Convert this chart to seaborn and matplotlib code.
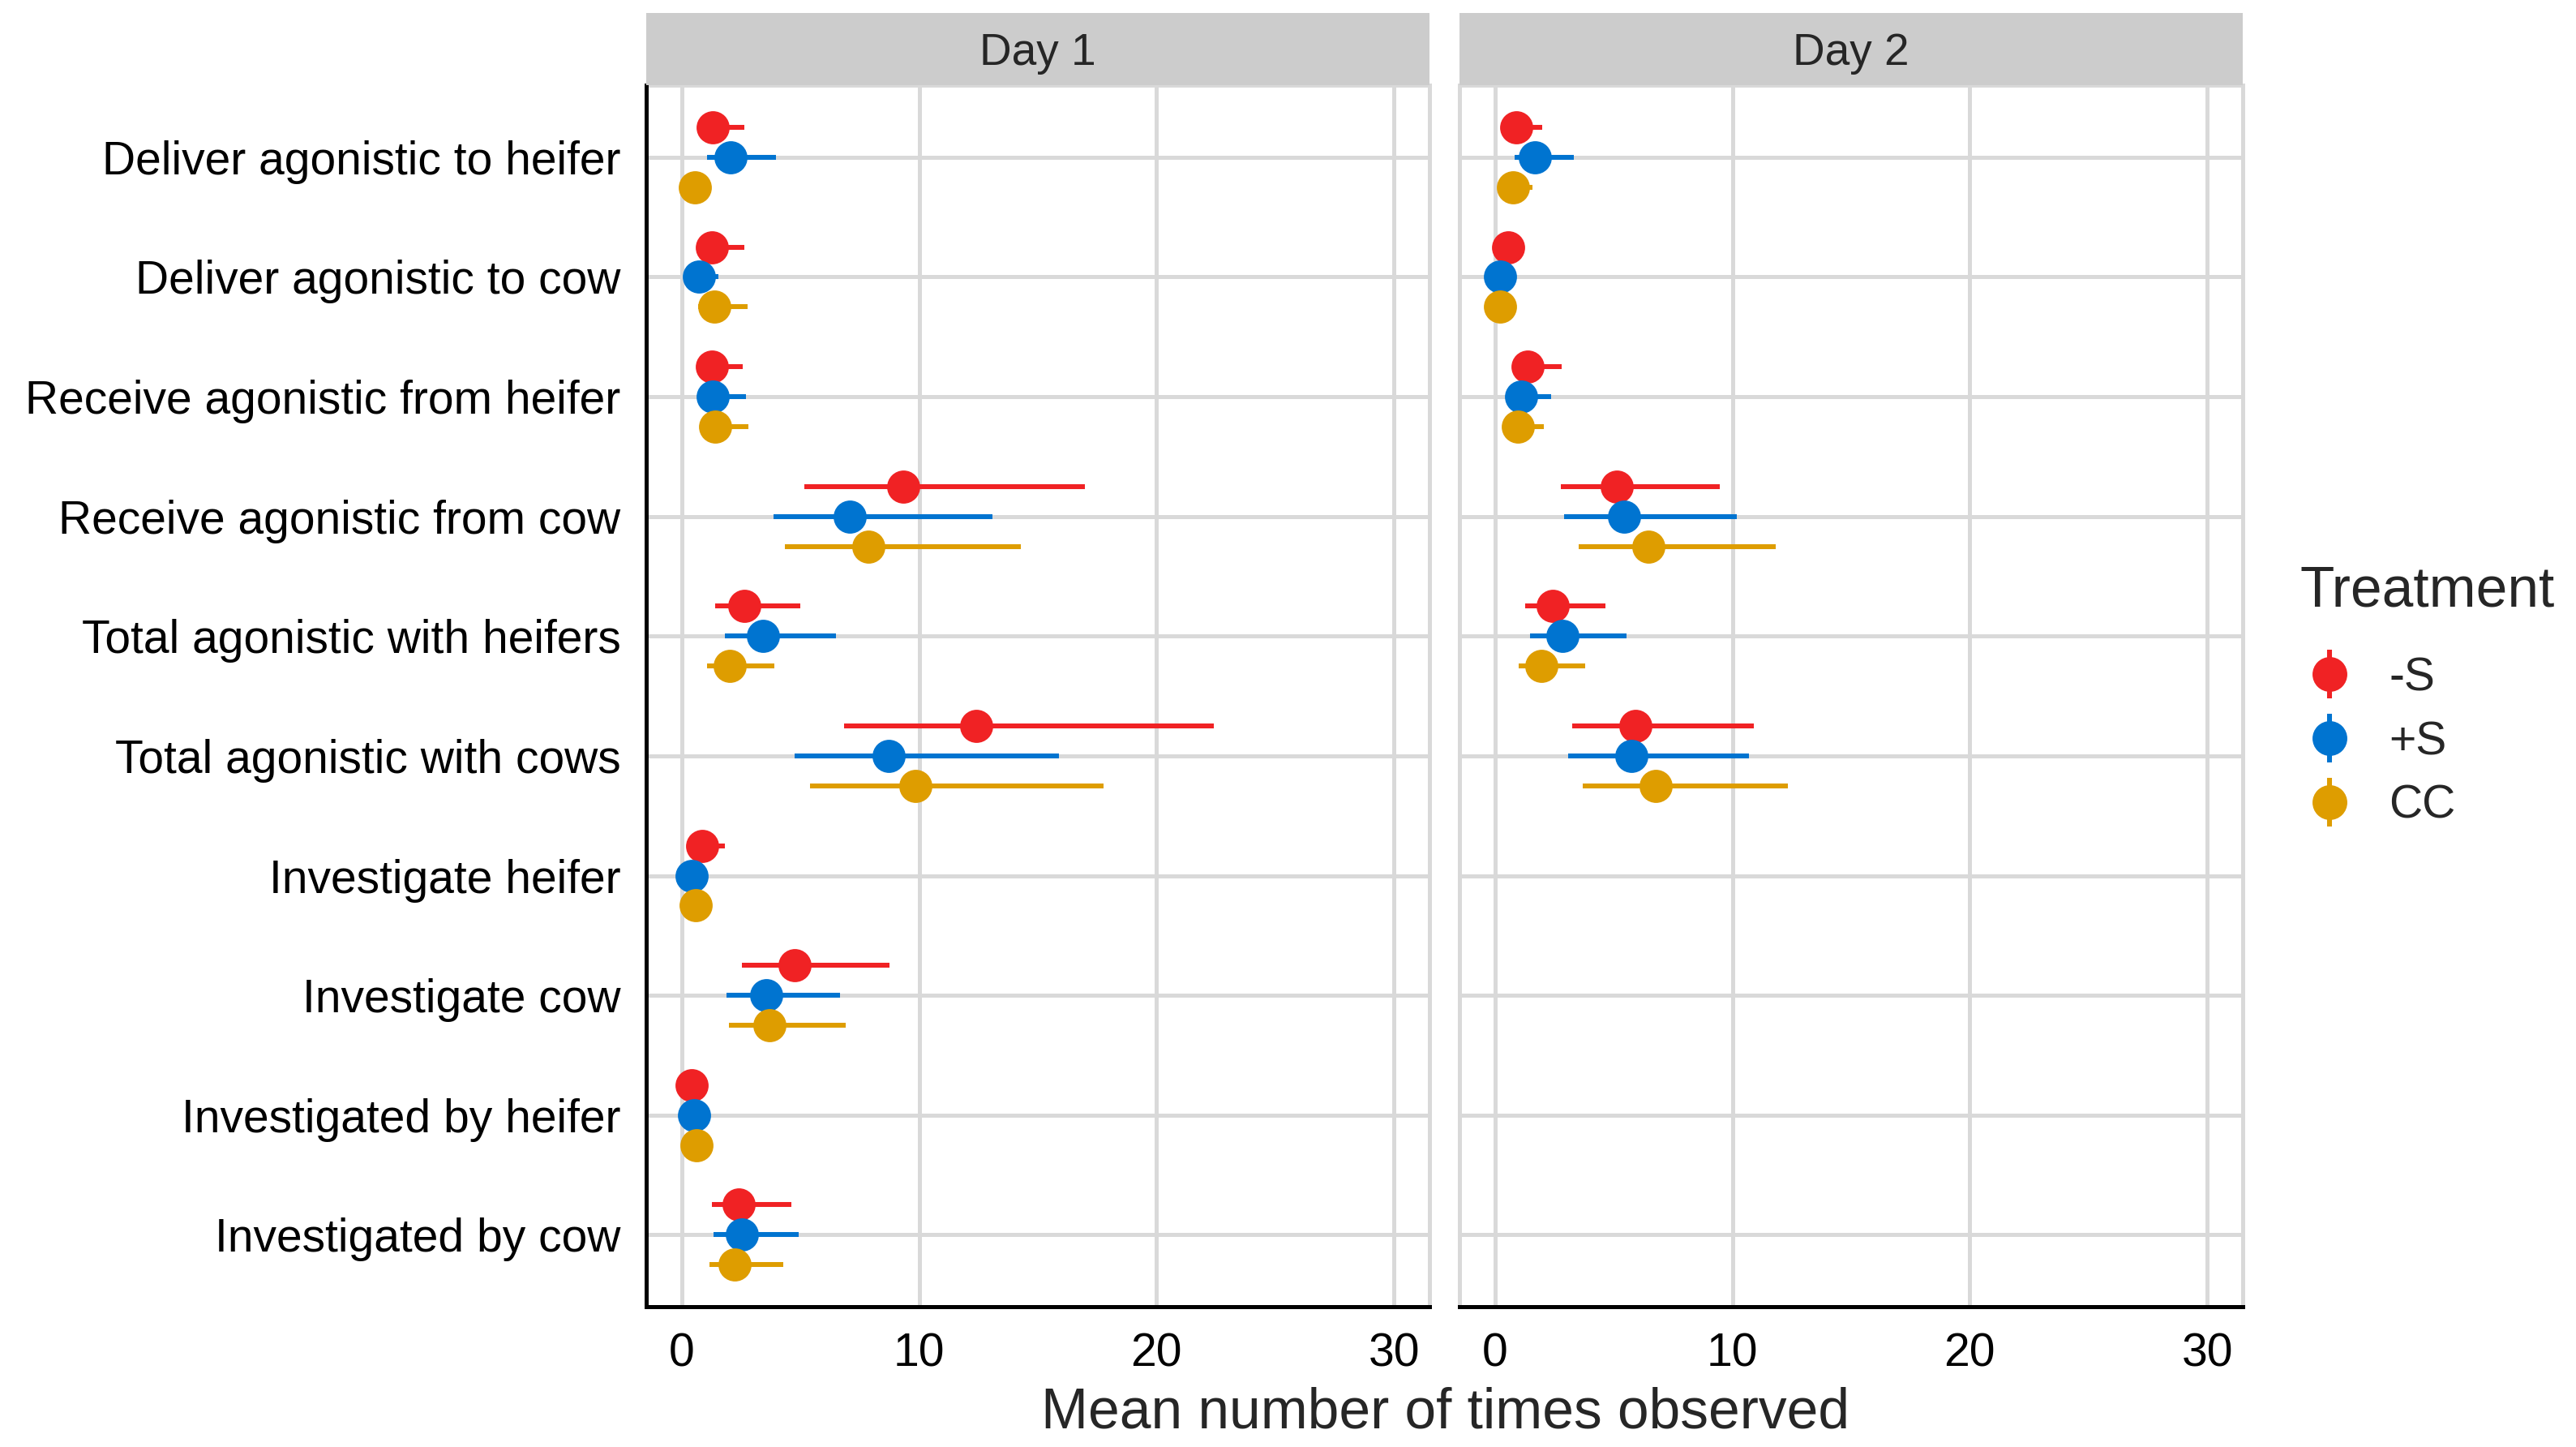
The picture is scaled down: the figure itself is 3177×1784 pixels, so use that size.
import numpy as np
import pandas as pd
import matplotlib
matplotlib.use("Agg")
import matplotlib.pyplot as plt
import seaborn as sns
from matplotlib.lines import Line2D
from matplotlib.legend_handler import HandlerTuple

behaviours = [
    "Deliver agonistic to heifer",
    "Deliver agonistic to cow",
    "Receive agonistic from heifer",
    "Receive agonistic from cow",
    "Total agonistic with heifers",
    "Total agonistic with cows",
    "Investigate heifer",
    "Investigate cow",
    "Investigated by heifer",
    "Investigated by cow",
]
treatments = ["-S", "+S", "CC"]
days = ["Day 1", "Day 2"]
colors = ["#F02224", "#0074D0", "#DE9D00"]

# Day 1 means and interval ends, per treatment
d1_neg_mean = [1.30, 1.26, 1.26, 9.33, 2.63, 12.39, 0.85, 4.74, 0.41, 2.41]
d1_neg_lo = [0.70, 0.70, 0.70, 5.15, 1.39, 6.85, 0.40, 2.52, 0.15, 1.26]
d1_neg_hi = [2.65, 2.63, 2.57, 16.98, 5.00, 22.43, 1.80, 8.76, 0.90, 4.63]
d1_pos_mean = [2.04, 0.72, 1.30, 7.09, 3.43, 8.70, 0.43, 3.54, 0.50, 2.54]
d1_pos_lo = [1.07, 0.30, 0.70, 3.85, 1.80, 4.74, 0.15, 1.87, 0.20, 1.33]
d1_pos_hi = [3.98, 1.54, 2.70, 13.07, 6.48, 15.89, 0.90, 6.67, 1.00, 4.91]
d1_cc_mean = [0.54, 1.37, 1.39, 7.85, 2.02, 9.83, 0.57, 3.70, 0.61, 2.24]
d1_cc_lo = [0.20, 0.70, 0.75, 4.33, 1.07, 5.41, 0.20, 1.98, 0.25, 1.15]
d1_cc_hi = [1.00, 2.76, 2.80, 14.28, 3.91, 17.76, 1.00, 6.91, 1.10, 4.26]

# Day 2 only has the agonistic behaviours
nan4 = [np.nan] * 4
d2_neg_mean = [0.89, 0.54, 1.37, 5.12, 2.42, 5.93] + nan4
d2_neg_lo = [0.40, 0.20, 0.75, 2.77, 1.26, 3.25] + nan4
d2_neg_hi = [1.98, 1.00, 2.79, 9.46, 4.66, 10.91] + nan4
d2_pos_mean = [1.66, 0.20, 1.11, 5.45, 2.85, 5.73] + nan4
d2_pos_lo = [0.81, 0.05, 0.50, 2.90, 1.46, 3.07] + nan4
d2_pos_hi = [3.33, 0.60, 2.37, 10.17, 5.53, 10.68] + nan4
d2_cc_mean = [0.74, 0.20, 0.96, 6.45, 1.96, 6.75] + nan4
d2_cc_lo = [0.30, 0.05, 0.45, 3.51, 0.98, 3.68] + nan4
d2_cc_hi = [1.57, 0.60, 2.05, 11.81, 3.79, 12.33] + nan4

series = {
    ("Day 1", "-S"): (d1_neg_mean, d1_neg_lo, d1_neg_hi),
    ("Day 1", "+S"): (d1_pos_mean, d1_pos_lo, d1_pos_hi),
    ("Day 1", "CC"): (d1_cc_mean, d1_cc_lo, d1_cc_hi),
    ("Day 2", "-S"): (d2_neg_mean, d2_neg_lo, d2_neg_hi),
    ("Day 2", "+S"): (d2_pos_mean, d2_pos_lo, d2_pos_hi),
    ("Day 2", "CC"): (d2_cc_mean, d2_cc_lo, d2_cc_hi),
}

rows = []
for (day, trt), (m, lo, hi) in series.items():
    for b, mv, lv, hv in zip(behaviours, m, lo, hi):
        rows.append({"day": day, "behaviour": b, "treatment": trt,
                     "mean": mv, "lo": lv, "hi": hv})
df = pd.DataFrame(rows).dropna()

sns.set_style("white")
plt.rcParams["font.family"] = ["Liberation Sans", "DejaVu Sans"]

fig = plt.figure(figsize=(10.59, 5.9467), dpi=300)

grid_col = "#D9D9D9"
panels = {"Day 1": 797 / 3177, "Day 2": 1800 / 3177}
pw = 966 / 3177
pb = 0.097
ph = 0.941 - 0.097
dodge = 0.5
offsets = np.linspace(-dodge / 2, dodge / 2, len(treatments))

for day in days:
    left = panels[day]
    ax = fig.add_axes([left, pb, pw, ph])
    sub = df[df["day"] == day]
    sns.pointplot(data=sub, x="mean", y="behaviour", hue="treatment",
                  order=behaviours, hue_order=treatments, palette=colors,
                  dodge=dodge, linestyle="none", markers="o", errorbar=None,
                  markersize=9.8, markeredgewidth=0, legend=False,
                  zorder=3, ax=ax)
    # interval lines
    for i, trt in enumerate(treatments):
        s = sub[sub["treatment"] == trt]
        ypos = [behaviours.index(b) + offsets[i] for b in s["behaviour"]]
        ax.hlines(ypos, s["lo"], s["hi"], color=colors[i], lw=1.45, zorder=2)

    ax.set_xlim(-1.5, 31.5)
    ax.set_ylim(len(behaviours) - 1 + 0.6, -0.6)
    ax.set_xticks([0, 10, 20, 30])
    ax.grid(True, color=grid_col, lw=1.2)
    ax.set_axisbelow(True)
    ax.set_xlabel("")
    ax.set_ylabel("")
    ax.tick_params(axis="x", length=4, width=1.2, color="black",
                   labelsize=13.7, pad=3.6, labelcolor="black")
    for sp in ["top", "right", "left", "bottom"]:
        ax.spines[sp].set_color(grid_col)
        ax.spines[sp].set_linewidth(1.2)
    ax.spines["bottom"].set_color("black")
    ax.spines["bottom"].set_zorder(5)
    if day == "Day 1":
        ax.spines["left"].set_color("black")
        ax.spines["left"].set_zorder(5)
        ax.tick_params(axis="y", length=4, width=1.2, color="black",
                       labelsize=13.7, pad=3.6, labelcolor="black")
    else:
        ax.tick_params(axis="y", length=0, labelleft=False)

    # facet strip
    sax = fig.add_axes([left, 0.941, pw, 0.991 - 0.941])
    sax.set_facecolor("#CCCCCC")
    sax.set_xticks([])
    sax.set_yticks([])
    for sp in sax.spines.values():
        sp.set_visible(False)
    sax.text(0.5, 0.44, day, ha="center", va="center", fontsize=13.2,
             transform=sax.transAxes)

fig.text((797 + 2767) / 2 / 3177, 0.023, "Mean number of times observed",
         ha="center", va="center", fontsize=16.7)

# legend, title placed separately for a wider gap above the keys
fig.text(2836 / 3177, 1 - 729 / 1784, "Treatment", ha="left", va="center",
         fontsize=16.7)
handles = [
    (Line2D([], [], marker="|", markersize=14.6, markeredgewidth=1.45,
            color=c, linestyle="none"),
     Line2D([], [], marker="o", markersize=10.3, markeredgewidth=0,
            color=c, linestyle="none"))
    for c in colors
]
fig.legend(handles, treatments, loc="center left",
           bbox_to_anchor=(2844 / 3177, 1 - 915 / 1784), frameon=False,
           fontsize=13.7,
           handler_map={tuple: HandlerTuple(ndivide=1)},
           handlelength=1.0, handletextpad=0.79, labelspacing=0.43,
           borderpad=0, borderaxespad=0)

fig.savefig("out.png", dpi=300)
